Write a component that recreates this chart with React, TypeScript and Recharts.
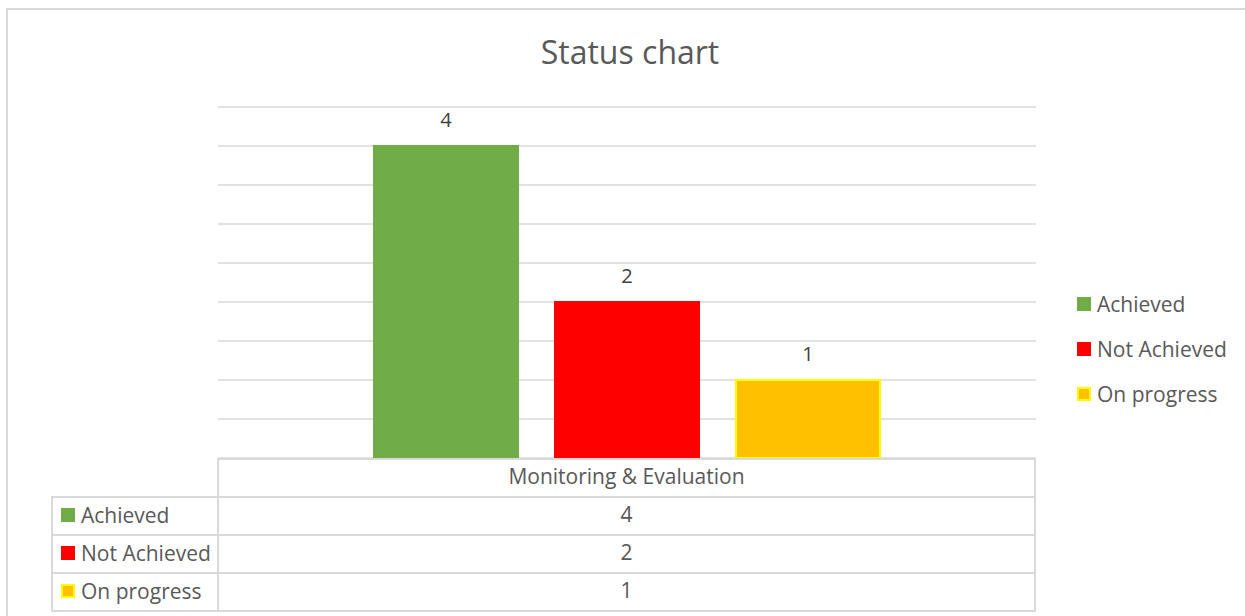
import React from "react";
import { Bar, BarChart, CartesianGrid, LabelList, XAxis, YAxis } from "recharts";

const CATEGORIES = ["Monitoring & Evaluation"];
const SERIES = ["Achieved", "Not Achieved", "On progress"];
const ACHIEVED = [4];
const NOT_ACHIEVED = [2];
const ON_PROGRESS = [1];
const Y_TICKS = [0, 0.5, 1, 1.5, 2, 2.5, 3, 3.5, 4, 4.5];

const FILLS = ["#70AD47", "#FF0000", "#FFC000"];
const STROKES = ["#70AD47", "#FF0000", "#FFFF00"];
const KEYS = ["achieved", "notAchieved", "onProgress"];
const VALUES = [ACHIEVED, NOT_ACHIEVED, ON_PROGRESS];

const data = CATEGORIES.map((name, i) => ({
  name,
  achieved: ACHIEVED[i],
  notAchieved: NOT_ACHIEVED[i],
  onProgress: ON_PROGRESS[i],
}));

const FONT = "'Open Sans', 'Liberation Sans', sans-serif";
const TEXT = "#595959";
const LINE = "#d9d9d9";

function Swatch({ i }: { i: number }) {
  return (
    <span
      style={{
        display: "inline-block",
        width: 14,
        height: 14,
        boxSizing: "border-box",
        background: FILLS[i],
        border: `2px solid ${STROKES[i]}`,
        marginRight: 6,
      }}
    />
  );
}

const cell = (left: number, top: number, width: number, height: number): React.CSSProperties => ({
  position: "absolute",
  left,
  top,
  width,
  height,
  boxSizing: "border-box",
  border: `2px solid ${LINE}`,
  display: "flex",
  alignItems: "center",
  paddingBottom: 4,
  fontSize: 21,
  color: TEXT,
});

export default function App() {
  const rowTop = 458;
  const rowH = 38;
  return (
    <div style={{ position: "absolute", left: 0, top: 0, width: 1245, height: 616, overflow: "hidden", background: "#fff", fontFamily: FONT }}>
      <div style={{ position: "absolute", left: 6, top: 8, width: 1260, height: 640, boxSizing: "border-box", border: `2px solid ${LINE}` }} />
      <div style={{ position: "absolute", left: 0, top: 30, width: 1260, textAlign: "center", fontSize: 32, color: TEXT }}>
        Status chart
      </div>

      <BarChart
        width={1245}
        height={616}
        data={data}
        margin={{ top: 107, right: 209, bottom: 158, left: 218 }}
        barSize={144}
        barGap={37}
        style={{ position: "absolute", left: 0, top: 0 }}
      >
        <CartesianGrid vertical={false} stroke={LINE} strokeWidth={1.5} />
        <XAxis dataKey="name" hide />
        <YAxis hide domain={[0, 4.5]} ticks={Y_TICKS} />
        {KEYS.map((k, i) => (
          <Bar
            key={k}
            dataKey={k}
            name={SERIES[i]}
            fill={FILLS[i]}
            stroke={STROKES[i]}
            strokeWidth={2}
            isAnimationActive={false}
          >
            <LabelList dataKey={k} position="top" offset={19} fill="#404040" fontSize={20} fontFamily={FONT} />
          </Bar>
        ))}
      </BarChart>

      {/* legend */}
      <div style={{ position: "absolute", left: 1077, top: 289, color: TEXT, fontSize: 21 }}>
        {SERIES.map((s, i) => (
          <div key={s} style={{ display: "flex", alignItems: "center", height: 30, marginBottom: 15 }}>
            <Swatch i={i} />
            {s}
          </div>
        ))}
      </div>

      {/* data table */}
      <div style={{ ...cell(217, rowTop, 819, rowH + 2), justifyContent: "center" }}>{CATEGORIES[0]}</div>
      {SERIES.map((s, i) => (
        <React.Fragment key={s}>
          <div style={{ ...cell(51, rowTop + rowH * (i + 1), 168, rowH + 2), paddingLeft: 8, paddingBottom: 2 }}>
            <Swatch i={i} />
            {s}
          </div>
          <div style={{ ...cell(217, rowTop + rowH * (i + 1), 819, rowH + 2), justifyContent: "center" }}>
            {VALUES[i][0]}
          </div>
        </React.Fragment>
      ))}
    </div>
  );
}
